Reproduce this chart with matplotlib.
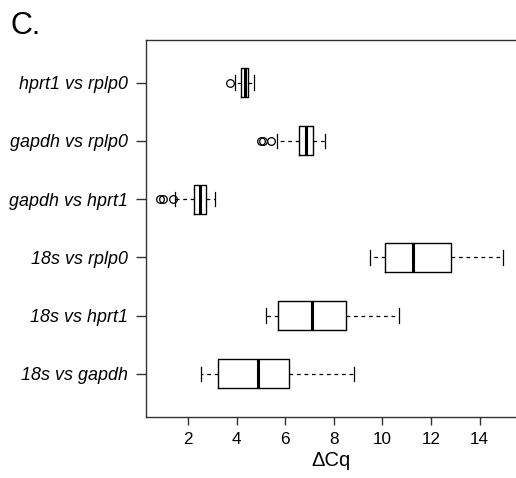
import numpy as np
import matplotlib
matplotlib.use("Agg")
import matplotlib.pyplot as plt

plt.rcParams['font.family'] = ['Liberation Sans', 'DejaVu Sans']

# comparisons, bottom to top
labels = ['18s vs gapdh', '18s vs hprt1', '18s vs rplp0',
          'gapdh vs hprt1', 'gapdh vs rplp0', 'hprt1 vs rplp0']

# five-number summaries (delta Cq)
whislo = [2.52, 5.20, 9.48, 1.48, 5.68, 3.92]
q1 = [3.23, 5.72, 10.12, 2.23, 6.56, 4.20]
med = [4.88, 7.10, 11.25, 2.49, 6.87, 4.33]
q3 = [6.16, 8.49, 12.82, 2.73, 7.13, 4.46]
whishi = [8.83, 10.68, 14.95, 3.11, 7.63, 4.73]
fliers = [[], [], [], [0.84, 0.97, 1.38], [5.02, 5.09, 5.40], [3.72]]

stats = []
for i in range(len(labels)):
    stats.append(dict(label=labels[i], whislo=whislo[i], q1=q1[i], med=med[i],
                      q3=q3[i], whishi=whishi[i], fliers=fliers[i]))

fig = plt.figure(figsize=(5.16, 4.78), dpi=100)
ax = fig.add_axes([146/516, 61/478, 370/516, 377.5/478])

pos = np.arange(1, len(labels) + 1)
ax.bxp(stats, positions=pos, widths=0.5, vert=False,
       boxprops=dict(color='black', linewidth=1.0),
       medianprops=dict(color='black', linewidth=2.2, solid_capstyle='butt'),
       whiskerprops=dict(color='black', linewidth=0.9, linestyle=(0, (3, 3))),
       capprops=dict(color='black', linewidth=0.9),
       flierprops=dict(marker='o', markerfacecolor='none', markeredgecolor='black',
                       markersize=5.5, markeredgewidth=0.9))

ax.set_xlim(0.27, 15.5)
ax.set_ylim(0.26, 6.74)
ax.set_xticks([2, 4, 6, 8, 10, 12, 14])
ax.set_yticks(pos)
ax.set_yticklabels(labels, fontsize=12.9, style='italic')
ax.tick_params(axis='x', labelsize=12.3, length=6, width=1.0, pad=5, color='#333333')
ax.tick_params(axis='y', length=7, width=1.0, pad=6, color='#333333')
ax.set_xlabel('ΔCq', fontsize=14.5, labelpad=3)

for side in ['left', 'bottom', 'top']:
    ax.spines[side].set_linewidth(1.0)
    ax.spines[side].set_color('#333333')
ax.spines['right'].set_visible(False)

fig.text(10/516, 1 - 34/478, 'C.', fontsize=22, ha='left', va='baseline')

fig.savefig('out.png', dpi=100)
